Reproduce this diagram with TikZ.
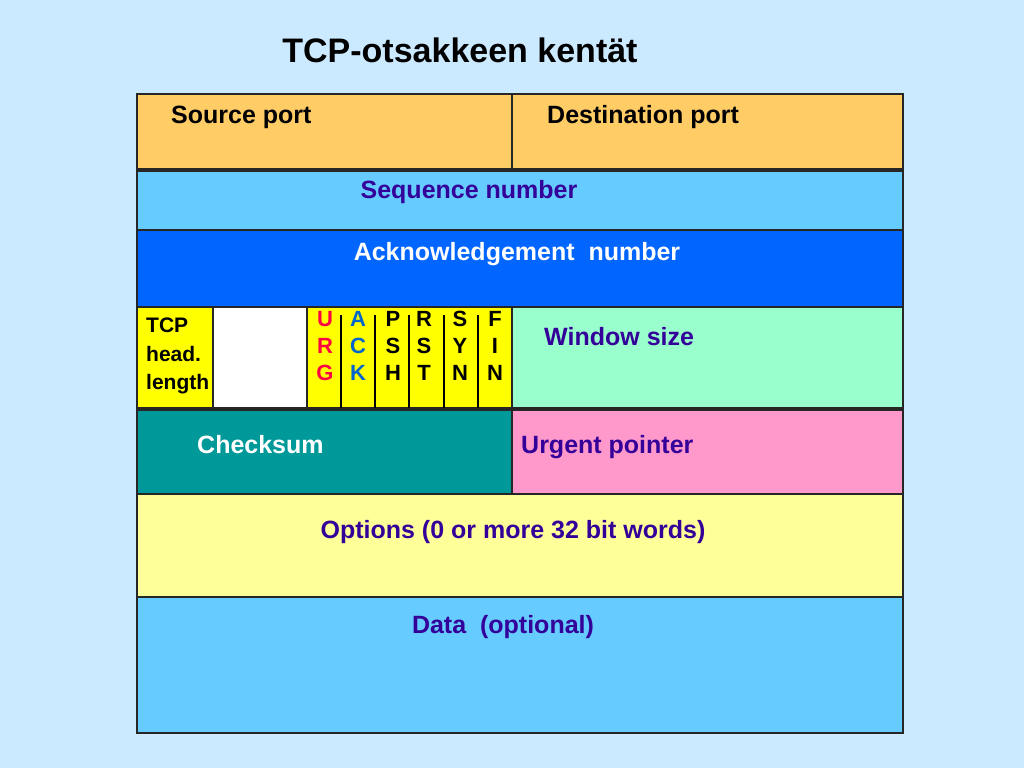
\documentclass[tikz,border=0pt]{standalone}
\usepackage{fontspec}
\setmainfont{Liberation Sans}
\definecolor{slidebg}{HTML}{CCEAFF}
\definecolor{portorange}{HTML}{FFCC66}
\definecolor{seqblue}{HTML}{66CCFF}
\definecolor{ackfill}{HTML}{0066FF}
\definecolor{flagyellow}{HTML}{FFFF00}
\definecolor{winmint}{HTML}{99FFCC}
\definecolor{chkteal}{HTML}{009999}
\definecolor{urgpink}{HTML}{FF99CC}
\definecolor{optyellow}{HTML}{FFFF99}
\definecolor{indigo}{HTML}{330099}
\definecolor{urgred}{HTML}{FF0044}
\definecolor{ackletter}{HTML}{0066CC}

\begin{document}
\begin{tikzpicture}[x=1pt,y=-1pt,
    field/.style={draw=black!85,line width=1.3pt},
    lbl/.style={anchor=base,inner sep=0pt,font=\fontsize{25}{30}\selectfont\bfseries},
    flag/.style={anchor=base,inner sep=0pt,font=\fontsize{22}{27}\selectfont\bfseries},
    divider/.style={draw=black,line width=1.6pt}]
  \fill[slidebg] (0,0) rectangle (1024,768);
  \useasboundingbox (0,0) rectangle (1024,768);
  \node[anchor=base,inner sep=0pt,font=\fontsize{34}{40}\selectfont\bfseries]
    (title) at (460,63) {TCP-otsakkeen kentät};
  \filldraw[field,fill=portorange] (137,94) rectangle (512,169);
  \filldraw[field,fill=portorange] (512,94) rectangle (903,169);
  \filldraw[field,fill=seqblue] (137,171) rectangle (903,230);
  \filldraw[field,fill=ackfill] (137,230) rectangle (903,307);
  \filldraw[field,fill=flagyellow] (137,307) rectangle (213,408);
  \filldraw[field,fill=white] (213,307) rectangle (307,408);
  \filldraw[field,fill=flagyellow] (307,307) rectangle (512,408);
  \filldraw[field,fill=winmint] (512,307) rectangle (903,408);
  \filldraw[field,fill=chkteal] (137,410) rectangle (512,494);
  \filldraw[field,fill=urgpink] (512,410) rectangle (903,494);
  \filldraw[field,fill=optyellow] (137,494) rectangle (903,597);
  \filldraw[field,fill=seqblue] (137,597) rectangle (903,733);
  \foreach \x in {341,375,409,444,478}
    \draw[divider] (\x,315) -- (\x,408);
  \node[lbl,anchor=base west] (srcport) at (171,123) {Source port};
  \node[lbl,anchor=base west] (dstport) at (547,123) {Destination port};
  \node[lbl,text=indigo] (seqnum) at (469,198) {Sequence number};
  \node[lbl,text=white] (acknum) at (517,260) {Acknowledgement\ \ number};
  \node[anchor=north west,inner sep=0pt,align=left,font=\fontsize{21}{28.5}\selectfont\bfseries]
    (hdrlen) at (146,318) {TCP\\head.\\length};
  \foreach \x/\ta/\tb/\tc/\col in {325/U/R/G/urgred,358/A/C/K/ackletter,393/P/S/H/black,
      424/R/S/T/black,460/S/Y/N/black,495/F/I/N/black}{
    \node[flag,text=\col] (f\x a) at (\x,326) {\ta};
    \node[flag,text=\col] (f\x b) at (\x,353) {\tb};
    \node[flag,text=\col] (f\x c) at (\x,380) {\tc};
  }
  \node[lbl,anchor=base west,text=indigo] (winsize) at (544,345) {Window size};
  \node[lbl,anchor=base west,text=white] (checksum) at (197,453) {Checksum};
  \node[lbl,anchor=base west,text=indigo] (urgptr) at (521,453) {Urgent pointer};
  \node[lbl,text=indigo] (options) at (513,538) {Options (0 or more 32 bit words)};
  \node[lbl,text=indigo] (data) at (503,633) {Data\ \ (optional)};
\end{tikzpicture}
\end{document}
